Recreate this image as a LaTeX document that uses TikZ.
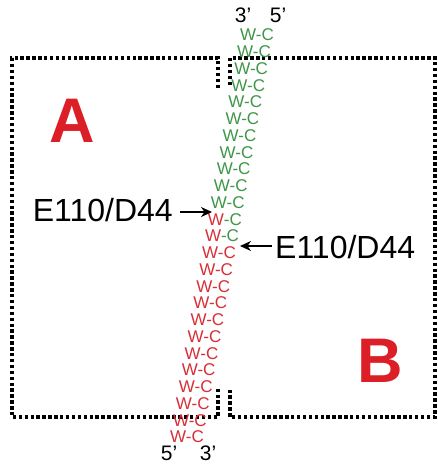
\documentclass[tikz,border=0pt]{standalone}
\usepackage{fontspec}
\setmainfont{Liberation Sans}
\usetikzlibrary{arrows.meta}
\definecolor{dgreen}{RGB}{62,150,72}
\definecolor{dred}{RGB}{216,46,54}
\definecolor{bigred}{RGB}{220,30,38}
\begin{document}
\begin{tikzpicture}[x=1pt,y=-1pt,
 boxline/.style={line width=3.4pt, dash pattern=on 3.4pt off 2.5pt, line cap=butt},
 wc/.style={inner sep=0pt, font=\fontsize{17}{17}\selectfont},
 lab/.style={inner sep=0pt, font=\fontsize{32}{32}\selectfont},
 endlab/.style={inner sep=0pt, font=\fontsize{21}{21}\selectfont},
 big/.style={inner sep=0pt, text=bigred, font=\fontsize{63}{63}\selectfont\bfseries},
 arr/.style={line width=2pt, -{Stealth[length=11pt,width=10pt]}}]
\useasboundingbox (0,0) rectangle (438,466);
\fill[white] (0,0) rectangle (438,466);
% boxes
\draw[boxline] (218,88) -- (218,58) -- (12,58) -- (12,417) -- (218,417) -- (218,388);
\draw[boxline] (230,85) -- (230,58) -- (435,58) -- (435,417) -- (230,417) -- (230,388);
% base pairs
\foreach \i in {0,...,24}{
 \pgfmathsetmacro\yy{35+16.75*\i}
 \pgfmathsetmacro\xx{257-2.917*\i}
 \ifnum\i<11
  \node[wc,text=dgreen] (wc\i) at (\xx,\yy) {W-C};
 \else\ifnum\i<13
  \node[wc] (wc\i) at (\xx,\yy) {\textcolor{dred}{W}\textcolor{dgreen}{-C}};
 \else
  \node[wc,text=dred] (wc\i) at (\xx,\yy) {W-C};
 \fi\fi
}
% ends
\node[endlab] (t3) at (243,15) {3’};
\node[endlab] (t5) at (278,15) {5’};
\node[endlab] (b5) at (169,453) {5’};
\node[endlab] (b3) at (208,453) {3’};
% domain letters
\node[big] (A) at (72,121) {A};
\node[big] (B) at (380,361) {B};
% labels
\node[lab, anchor=east] (labL) at (173,210) {E110/D44};
\coordinate (tL) at (212,212);
\draw[arr, shorten <=7pt] (labL.east |- tL) -- (tL);
\node[lab, anchor=west] (labR) at (275,247) {E110/D44};
\coordinate (tR) at (240,246);
\draw[arr, shorten <=3pt] (labR.west |- tR) -- (tR);
\end{tikzpicture}
\end{document}
